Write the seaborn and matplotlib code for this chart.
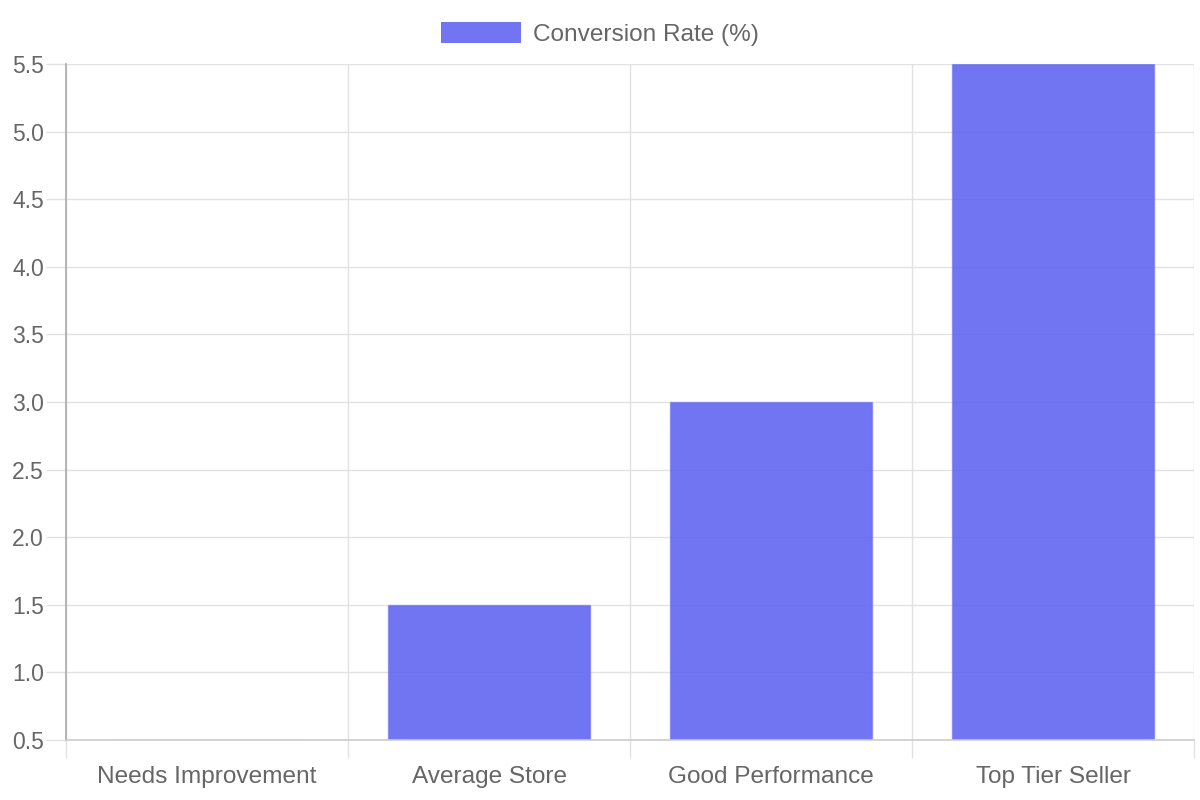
import matplotlib
matplotlib.use("Agg")
import matplotlib.pyplot as plt
import seaborn as sns
import pandas as pd
from matplotlib.patches import Patch

categories = ["Needs Improvement", "Average Store", "Good Performance", "Top Tier Seller"]
values = [0.5, 1.5, 3.0, 5.5]
series_name = "Conversion Rate (%)"
y_ticks = [0.5, 1.0, 1.5, 2.0, 2.5, 3.0, 3.5, 4.0, 4.5, 5.0, 5.5]

sns.set_theme(style="white")
plt.rcParams['font.family'] = ['Liberation Sans', 'DejaVu Sans']

df = pd.DataFrame({"category": categories, "value": values})

fig = plt.figure(figsize=(12, 8), dpi=100)
ax = fig.add_axes([66/1200, 1-740/800, (1194-66)/1200, (740-64)/800])

bar_color = (99/255, 102/255, 241/255, 0.9)
sns.barplot(data=df, x="category", y="value", color=bar_color, width=0.715,
            saturation=1, ax=ax, edgecolor=(99/255, 102/255, 241/255, 0.5), linewidth=1)
for p in ax.patches:
    p.set_facecolor(bar_color)

ax.set_ylim(0.5, 5.5)
ax.set_xlim(-0.5, len(categories) - 0.5)
ax.set_yticks(y_ticks)
ax.set_yticklabels([f"{t:.1f}" for t in y_ticks])
ax.set_xlabel("")
ax.set_ylabel("")

grid_c = "#e2e2e2"
ax.yaxis.grid(True, color=grid_c, linewidth=1)
bounds = [i - 0.5 for i in range(len(categories) + 1)]
ax.set_xticks(bounds, minor=True)
ax.xaxis.grid(True, which="minor", color=grid_c, linewidth=1)
ax.xaxis.grid(False, which="major")
ax.set_axisbelow(True)

ax.tick_params(axis="x", which="major", bottom=False, length=0, pad=18.5, labelsize=17.6,
               labelcolor="#666666")
ax.tick_params(axis="x", which="minor", bottom=True, length=13, width=1, color=grid_c,
               direction="out")
ax.tick_params(axis="y", which="major", left=True, length=14.4, width=1, color=grid_c,
               pad=1.5, labelsize=16.5, labelcolor="#666666")

for s in ["top", "right"]:
    ax.spines[s].set_visible(False)
ax.spines["left"].set_color("#aaaaaa")
ax.spines["left"].set_linewidth(1.2)
ax.spines["bottom"].set_color("#cccccc")
ax.spines["bottom"].set_linewidth(1.2)

handle = Patch(facecolor=bar_color, edgecolor="none")
fig.legend([handle], [series_name], loc="center", bbox_to_anchor=(0.5, 1-34/800),
           frameon=False, fontsize=17.6, labelcolor="#666666",
           handlelength=3.28, handleheight=0.98, handletextpad=0.49, borderpad=0)

fig.savefig("out.png", dpi=100, facecolor="white")
